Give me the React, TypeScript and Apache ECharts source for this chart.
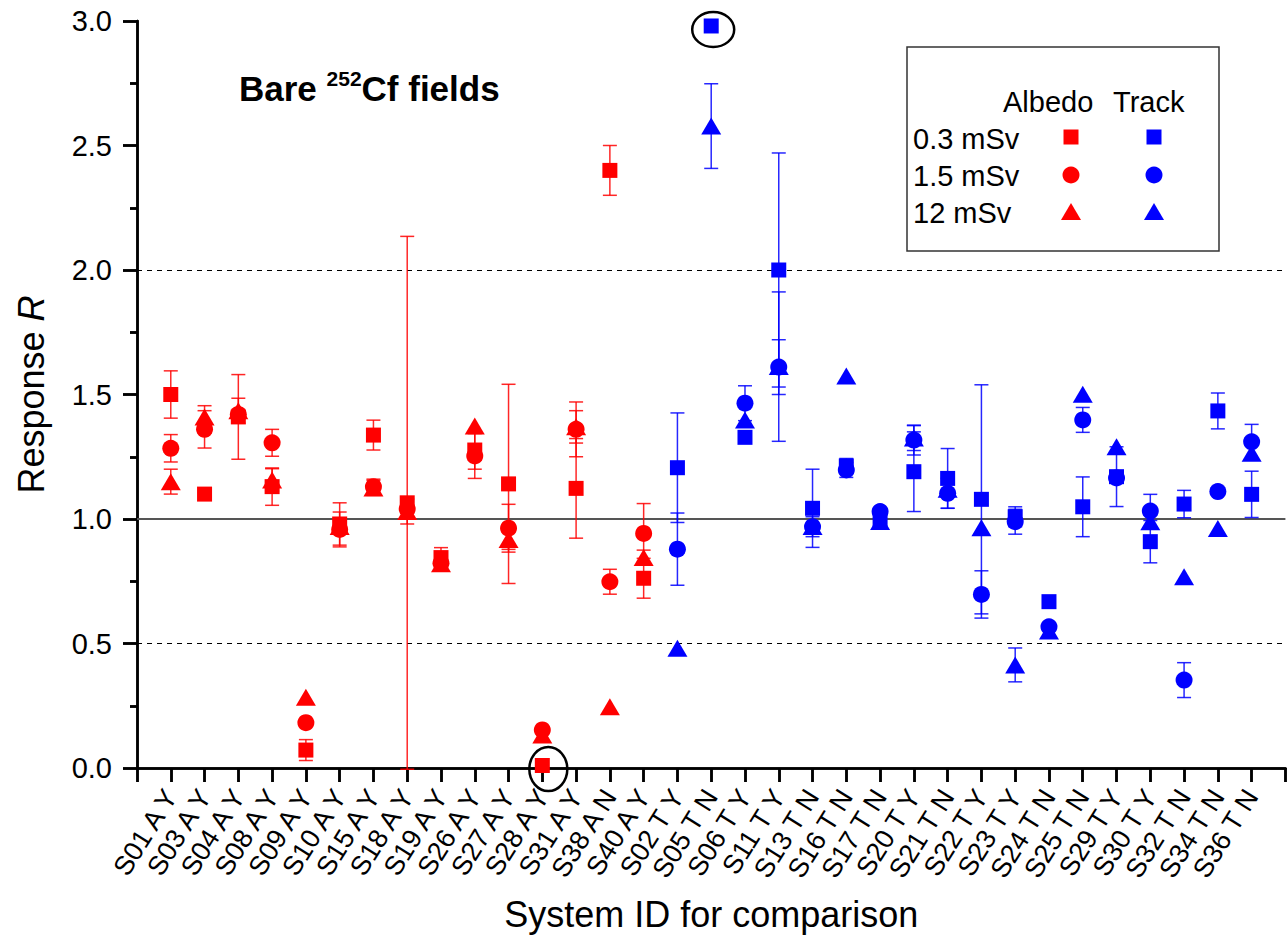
import React, { useEffect, useRef } from 'react';
import * as echarts from 'echarts';

const FONT = "'Liberation Sans', Arial, Helvetica, sans-serif";

const albedoIds = ['S01 A Y', 'S03 A Y', 'S04 A Y', 'S08 A Y', 'S09 A Y', 'S10 A Y', 'S15 A Y', 'S18 A Y', 'S19 A Y', 'S26 A Y', 'S27 A Y', 'S28 A Y', 'S31 A Y', 'S38 A N', 'S40 A Y'];
const trackIds = ['S02 T Y', 'S05 T N', 'S06 T Y', 'S11 T Y', 'S13 T N', 'S16 T N', 'S17 T N', 'S20 T Y', 'S21 T N', 'S22 T Y', 'S23 T Y', 'S24 T N', 'S25 T N', 'S29 T Y', 'S30 T Y', 'S32 T N', 'S34 T N', 'S36 T N'];
const categories = [...albedoIds, ...trackIds];

const yTicks = [0, 0.5, 1.0, 1.5, 2.0, 2.5, 3.0];

// Albedo dosemeters (red)
const albedo03 = [1.50, 1.10, 1.41, 1.13, 0.072, 0.98, 1.337, 1.065, 0.845, 1.277, 1.141, 0.01, 1.123, 2.40, 0.762];
const albedo03Err = [0.095, null, 0.17, 0.075, 0.042, 0.085, 0.06, 1.07, 0.04, 0.077, 0.40, null, 0.2, 0.10, 0.08];
const albedo15 = [1.284, 1.36, 1.42, 1.306, 0.182, 0.958, 1.13, 1.04, 0.822, 1.253, 0.963, 0.153, 1.36, 0.748, 0.942];
const albedo15Err = [0.055, 0.075, null, 0.054, null, 0.07, 0.03, null, null, 0.09, 0.096, null, 0.11, 0.05, 0.12];
const albedo12 = [1.15, 1.41, 1.435, 1.157, 0.284, 0.97, 1.125, 1.03, 0.82, 1.373, 0.918, 0.133, 1.37, 0.246, 0.845];
const albedo12Err = [0.05, 0.045, 0.05, 0.045, null, null, 0.03, 0.05, null, null, 0.04, null, 0.065, null, 0.03];

// Track dosemeters (blue)
const track03 = [1.206, 2.98, 1.328, 2.0, 1.043, 1.213, 1.0, 1.19, 1.163, 1.079, 1.009, 0.668, 1.049, 1.17, 0.909, 1.06, 1.434, 1.099];
const track03Err = [0.22, null, null, 0.47, 0.157, 0.03, null, 0.16, 0.12, 0.46, 0.04, null, 0.12, 0.12, 0.085, 0.055, 0.072, 0.093];
const track15 = [0.879, null, 1.465, 1.61, 0.969, 1.197, 1.03, 1.317, 1.103, 0.697, 0.989, 0.567, 1.398, 1.165, 1.032, 0.353, 1.11, 1.31];
const track15Err = [0.145, null, 0.07, 0.11, 0.04, 0.03, null, 0.06, 0.06, 0.095, 0.05, null, 0.05, null, 0.067, 0.07, null, 0.07];
const track12 = [0.481, 2.578, 1.398, 1.612, 0.97, 1.574, 0.99, 1.325, 1.119, 0.965, 0.414, 0.55, 1.501, 1.29, 0.989, 0.768, 0.962, 1.264];
const track12Err = [null, 0.17, null, 0.3, null, null, null, 0.05, null, null, 0.068, null, null, null, null, null, null, null];

const RED = '#ff0000';
const BLUE = '#0000ff';

function pts(values: (number | null)[], offset: number) {
  const out: number[][] = [];
  values.forEach((v, i) => { if (v != null) out.push([offset + i + 1, v]); });
  return out;
}
function errs(values: (number | null)[], e: (number | null)[], offset: number) {
  const out: number[][] = [];
  values.forEach((v, i) => {
    const d = e[i];
    if (v != null && d != null) out.push([offset + i + 1, v - d, v + d]);
  });
  return out;
}

function errorSeries(data: number[][], color: string) {
  return {
    type: 'custom',
    data,
    encode: { x: 0, y: [1, 2] },
    z: 2,
    silent: true,
    renderItem: (params: any, api: any) => {
      const x = api.value(0);
      const lo = api.coord([x, api.value(1)]);
      const hi = api.coord([x, api.value(2)]);
      const hw = 7;
      const style = { stroke: color, lineWidth: 1.5, opacity: 0.85 };
      return {
        type: 'group',
        children: [
          { type: 'line', shape: { x1: lo[0], y1: lo[1], x2: hi[0], y2: hi[1] }, style },
          { type: 'line', shape: { x1: lo[0] - hw, y1: lo[1], x2: lo[0] + hw, y2: lo[1] }, style },
          { type: 'line', shape: { x1: hi[0] - hw, y1: hi[1], x2: hi[0] + hw, y2: hi[1] }, style },
        ],
      };
    },
  };
}

function scatter(name: string, data: number[][], color: string, symbol: string, size: any, extra: any = {}) {
  return {
    name,
    type: 'scatter',
    data,
    symbol,
    symbolSize: size,
    itemStyle: { color, opacity: 1 },
    z: 3,
    silent: true,
    ...extra,
  };
}

const SQ = 15;
const CI = 17;
const TR = [20, 17];

function legendGraphics() {
  const g: any[] = [];
  g.push({ type: 'rect', id: 'lgbox', shape: { x: 907, y: 47, width: 312, height: 204 }, style: { fill: '#fff', stroke: '#333', lineWidth: 1.5 }, z: 10 });
  const txt = (id: string, text: string, x: number, y: number) => ({
    type: 'text', id, x, y, z: 11,
    style: { text, fontSize: 29, fontFamily: FONT, fill: '#000', align: 'left', verticalAlign: 'middle' },
  });
  g.push(txt('lgA', 'Albedo', 1003, 102));
  g.push(txt('lgT', 'Track', 1113, 102));
  g.push(txt('lg1', '0.3 mSv', 913, 139));
  g.push(txt('lg2', '1.5 mSv', 913, 176));
  g.push(txt('lg3', '12 mSv', 913, 213));
  const cols: [number, string][] = [[1071, RED], [1154, BLUE]];
  cols.forEach(([cx, c], k) => {
    g.push({ type: 'rect', id: 'lgs' + k, shape: { x: cx - 7.5, y: 137 - 7.5, width: 15, height: 15 }, style: { fill: c }, z: 11 });
    g.push({ type: 'circle', id: 'lgc' + k, shape: { cx, cy: 175, r: 8.5 }, style: { fill: c }, z: 11 });
    g.push({ type: 'polygon', id: 'lgt' + k, shape: { points: [[cx - 10, 220], [cx + 10, 220], [cx, 203]] }, style: { fill: c }, z: 11 });
  });
  g.push({
    type: 'text', id: 'title', x: 239, y: 88, z: 11,
    style: {
      text: '{a|Bare }{b|252}{a|Cf fields}',
      align: 'left', verticalAlign: 'middle',
      rich: {
        a: { fontSize: 35, fontWeight: 'bold', fontFamily: FONT, fill: '#000', lineHeight: 40 },
        b: { fontSize: 21, fontWeight: 'bold', fontFamily: FONT, fill: '#000', verticalAlign: 'top', lineHeight: 22 },
      },
    },
  });
  return g;
}

export default function App() {
  const ref = useRef<HTMLDivElement>(null);
  useEffect(() => {
    if (!ref.current) return;
    const chart = echarts.init(ref.current, null, { renderer: 'svg' });
    const nA = albedoIds.length;
    const axisLine = { show: true, lineStyle: { color: '#000', width: 2.5 } };
    const option: any = {
      animation: false,
      backgroundColor: '#fff',
      grid: { left: 137, top: 21, right: -9, bottom: 173, containLabel: false },
      xAxis: [
        {
          type: 'value', min: 0, max: 34, interval: 1, position: 'bottom',
          axisLine, splitLine: { show: false },
          axisTick: { show: true, length: 14, inside: false, lineStyle: { width: 2.5, color: '#000' } },
          axisLabel: {
            show: true, rotate: 58, margin: 24, fontSize: 27, fontFamily: FONT, color: '#000',
            showMinLabel: true, showMaxLabel: true,
            formatter: (v: number) => (v >= 1 && v <= categories.length ? categories[Math.round(v) - 1] : ''),
          },
          name: 'System ID for comparison', nameLocation: 'middle', nameGap: 128,
          nameTextStyle: { fontSize: 36, fontFamily: FONT, color: '#000' },
        },
        {
          type: 'value', min: 0, max: 34, interval: 1, position: 'top',
          axisLine, splitLine: { show: false },
          axisTick: { show: true, length: 14, inside: true, lineStyle: { width: 2.5, color: '#000' } },
          axisLabel: { show: false },
        },
      ],
      yAxis: [
        {
          type: 'value', min: yTicks[0], max: yTicks[yTicks.length - 1], interval: 0.5, position: 'left',
          axisLine, splitLine: { show: false },
          axisTick: { show: true, length: 14, inside: false, lineStyle: { width: 2.5, color: '#000' } },
          minorTick: { show: true, splitNumber: 2, length: 7, lineStyle: { width: 2.5, color: '#000' } },
          axisLabel: { show: true, margin: 25, fontSize: 29, fontFamily: FONT, color: '#000', formatter: (v: number) => v.toFixed(1) },
          name: '{a|Response }{b|R}', nameLocation: 'middle', nameGap: 88,
          nameTextStyle: {
            fontSize: 36, fontFamily: FONT, color: '#000',
            rich: {
              a: { fontSize: 36, fontFamily: FONT, color: '#000' },
              b: { fontSize: 36, fontFamily: FONT, color: '#000', fontStyle: 'italic' },
            },
          },
        },
        {
          type: 'value', min: yTicks[0], max: yTicks[yTicks.length - 1], interval: 0.5, position: 'right',
          axisLine, splitLine: { show: false },
          axisTick: { show: true, length: 14, inside: true, lineStyle: { width: 2.5, color: '#000' } },
          minorTick: { show: true, splitNumber: 2, length: 7, lineStyle: { width: 2.5, color: '#000' } },
          axisLabel: { show: false },
        },
      ],
      series: [
        errorSeries(errs(albedo03, albedo03Err, 0), RED),
        errorSeries(errs(albedo15, albedo15Err, 0), RED),
        errorSeries(errs(albedo12, albedo12Err, 0), RED),
        errorSeries(errs(track03, track03Err, nA), BLUE),
        errorSeries(errs(track15, track15Err, nA), BLUE),
        errorSeries(errs(track12, track12Err, nA), BLUE),
        scatter('Albedo 0.3 mSv', pts(albedo03, 0), RED, 'rect', SQ, {
          markLine: {
            silent: true, symbol: 'none', label: { show: false }, z: 1,
            data: [
              { yAxis: 2.0, lineStyle: { type: [5, 5], color: '#000', width: 1 } },
              { yAxis: 0.5, lineStyle: { type: [5, 5], color: '#000', width: 1 } },
              { yAxis: 1.0, lineStyle: { type: 'solid', color: '#555', width: 2 } },
            ],
          },
        }),
        scatter('Albedo 1.5 mSv', pts(albedo15, 0), RED, 'circle', CI),
        scatter('Albedo 12 mSv', pts(albedo12, 0), RED, 'triangle', TR),
        scatter('Track 0.3 mSv', pts(track03, nA), BLUE, 'rect', SQ),
        scatter('Track 1.5 mSv', pts(track15, nA), BLUE, 'circle', CI),
        scatter('Track 12 mSv', pts(track12, nA), BLUE, 'triangle', TR),
      ],
      graphic: { elements: legendGraphics() },
    };
    chart.setOption(option);
    const top = chart.convertToPixel({ xAxisIndex: 0, yAxisIndex: 0 }, [nA + 2, track03[1] as number]);
    const bot = chart.convertToPixel({ xAxisIndex: 0, yAxisIndex: 0 }, [12, albedo03[11] as number]);
    const ell = [
      { type: 'ellipse', id: 'e1', shape: { cx: top[0] + 2, cy: top[1] + 3.5, rx: 21, ry: 17.5 }, style: { fill: 'none', stroke: '#000', lineWidth: 2.5 }, z: 12 },
      { type: 'ellipse', id: 'e2', shape: { cx: bot[0] + 6, cy: bot[1] + 3.5, rx: 19, ry: 22 }, style: { fill: 'none', stroke: '#000', lineWidth: 2.5 }, z: 12 },
    ];
    chart.setOption({ graphic: { elements: [...legendGraphics(), ...ell] } });
    return () => chart.dispose();
  }, []);
  return <div ref={ref} style={{ position: 'absolute', left: 0, top: 0, width: 1287, height: 941, overflow: 'hidden' }} />;
}
